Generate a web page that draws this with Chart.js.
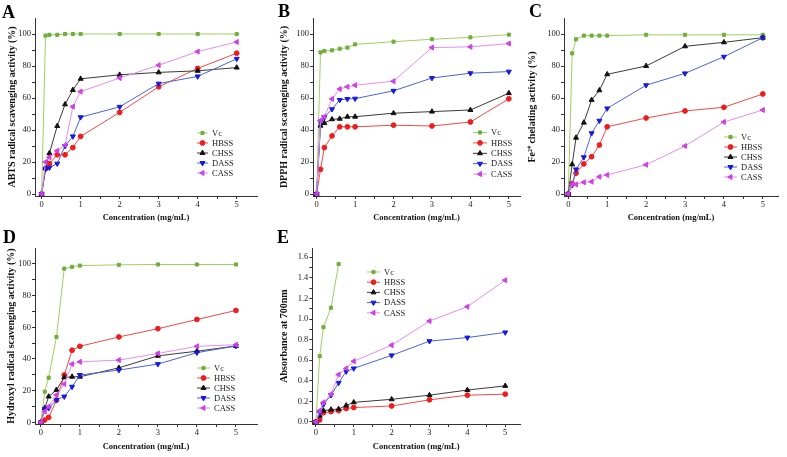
<!DOCTYPE html>
<html>
<head>
<meta charset="utf-8">
<script src="https://cdn.jsdelivr.net/npm/chart.js@4.4.1/dist/chart.umd.min.js"></script>
<style>
  html, body { margin: 0; padding: 0; background: #fff; }
  #wrap { position: relative; width: 787px; height: 457px; overflow: hidden; }
  canvas { position: absolute; }
</style>
</head>
<body>
<div id="wrap">
  <canvas id="chartA" width="262" height="228" style="left:0;top:0"></canvas>
  <canvas id="chartB" width="263" height="228" style="left:262px;top:0"></canvas>
  <canvas id="chartC" width="262" height="228" style="left:525px;top:0"></canvas>
  <canvas id="chartD" width="262" height="229" style="left:0;top:228px"></canvas>
  <canvas id="chartE" width="263" height="229" style="left:262px;top:228px"></canvas>
</div>
<script>
// concentrations (mg/mL) shared by every panel
const conc = [0, 0.1, 0.2, 0.4, 0.6, 0.8, 1, 2, 3, 4, 5];
const seriesNames = ['Vc', 'HBSS', 'CHSS', 'DASS', 'CASS'];

// A - ABTS radical scavenging activity (%)
const abtsVc   = [0, 99, 99.5, 99.5, 100, 100, 100, 100, 100, 100, 100];
const abtsHBSS = [0, 16, 19, 24.5, 24.5, 29, 36, 51, 67, 78.5, 88];
const abtsCHSS = [0, 16, 25.5, 42.5, 56, 65, 72, 74.5, 76, 77, 79];
const abtsDASS = [0, 15.5, 16.5, 19, 30, 36, 48, 54.5, 69, 73.5, 84.5];
const abtsCASS = [0, 20, 23, 27, 30.5, 54.6, 64, 72.5, 80.5, 89, 95];

// B - DPPH radical scavenging activity (%)
const dpphVc   = [0, 88.5, 89.4, 89.8, 90.8, 91.5, 93.5, 95.2, 96.7, 97.9, 99.6];
const dpphHBSS = [0, 15.4, 29, 36.3, 42, 42, 42, 43, 42.5, 45, 59.5];
const dpphCHSS = [0, 42.7, 44.3, 46.7, 47, 48.3, 48.3, 50.5, 51.5, 52.5, 63];
const dpphDASS = [0, 45.2, 48, 53, 58.8, 59.4, 59.6, 64.5, 72.5, 75.5, 76.5];
const dpphCASS = [0, 46, 48.3, 59.4, 65.6, 67, 68, 70.5, 91.5, 92, 94];

// C - Fe2+ chelating activity (%)
const feVc   = [0, 87.9, 96.7, 99, 99, 99, 99, 99.5, 99.5, 99.5, 99.5];
const feHBSS = [0, 6.5, 13, 18.8, 23.3, 30.6, 42, 47.5, 51.9, 54.2, 62.5];
const feCHSS = [0, 18.5, 35.2, 44.6, 58.8, 64.8, 74.8, 80, 92.3, 94.8, 97.7];
const feDASS = [0, 5.5, 15.4, 23, 38, 45.8, 53.5, 68, 75.4, 85.8, 97.7];
const feCASS = [0, 6, 6, 7.3, 7.7, 10.8, 11.9, 18.3, 30, 45, 52.5];

// D - Hydroxyl radical scavenging activity (%)
const ohVc   = [0, 19.4, 28.2, 53.9, 97, 98.1, 98.9, 99.4, 99.6, 99.6, 99.6];
const ohHBSS = [0, 1.5, 3.2, 14, 29.9, 45.5, 48, 53.9, 59.1, 64.9, 70.6];
const ohCHSS = [0, 9, 16.3, 20.5, 28.4, 28.8, 28.8, 34.4, 42, 44.9, 48.2];
const ohDASS = [0, 8.4, 9, 14.2, 16.3, 22.5, 29.9, 33, 36.8, 44, 48.2];
const ohCASS = [0, 6.9, 10, 17.3, 24.2, 36.8, 38.2, 39.3, 43.5, 48, 49];

// E - Absorbance at 700nm (Vc measured only up to 0.6 mg/mL)
const absVc   = [0, 0.64, 0.92, 1.11, 1.535];
const absHBSS = [0, 0.02, 0.09, 0.1, 0.11, 0.13, 0.14, 0.155, 0.215, 0.26, 0.27];
const absCHSS = [0, 0.06, 0.11, 0.12, 0.125, 0.16, 0.19, 0.22, 0.26, 0.31, 0.35];
const absDASS = [0, 0.087, 0.17, 0.26, 0.38, 0.49, 0.52, 0.647, 0.785, 0.82, 0.87];
const absCASS = [0, 0.11, 0.19, 0.27, 0.46, 0.52, 0.59, 0.746, 0.98, 1.12, 1.377];

const SERIES_STYLE = [
  { line: '#9fcf62', point: '#6fae3c', pointStyle: 'rect', radius: 2.2, rotation: 0 },
  { line: '#f04848', point: '#ee1c1c', pointStyle: 'circle', radius: 2.4, rotation: 0 },
  { line: '#3a3a3a', point: '#111111', pointStyle: 'triangle', radius: 2.9, rotation: 0 },
  { line: '#4a64d8', point: '#1818e0', pointStyle: 'triangle', radius: 2.9, rotation: 180 },
  { line: '#e48ef0', point: '#d23fe6', pointStyle: 'triangle', radius: 2.9, rotation: 270 }
];

const FONT = "'Liberation Serif', 'Times New Roman', serif";
const INK = '#222';

// legend + panel letter drawn on the canvas
const panelDecor = {
  id: 'panelDecor',
  afterDatasetsDraw(chart, args, opts) {
    const ctx = chart.ctx;
    ctx.save();
    chart.data.datasets.forEach((ds, i) => {
      const y = opts.top + i * opts.step;
      ctx.strokeStyle = ds.borderColor;
      ctx.lineWidth = 1;
      ctx.beginPath();
      ctx.moveTo(opts.x, y);
      ctx.lineTo(opts.x + opts.len, y);
      ctx.stroke();
      ctx.fillStyle = ds.pointBackgroundColor;
      ctx.strokeStyle = ds.pointBorderColor;
      Chart.helpers.drawPoint(ctx, {
        pointStyle: ds.pointStyle, radius: ds.pointRadius,
        rotation: ds.pointRotation, borderWidth: 1
      }, opts.x + opts.len / 2, y);
      ctx.fillStyle = INK;
      ctx.font = '8.5px ' + FONT;
      ctx.textBaseline = 'middle';
      ctx.textAlign = 'left';
      ctx.fillText(ds.label, opts.x + opts.len + 4, y + 0.5);
    });
    ctx.fillStyle = '#000';
    ctx.font = 'bold 18px ' + FONT;
    ctx.textBaseline = 'alphabetic';
    ctx.fillText(opts.letter, opts.letterX, opts.letterY);
    ctx.restore();
  }
};

function stepTicks(from, to, step) {
  const out = [];
  const n = Math.round((to - from) / step);
  for (let i = 0; i <= n; i++) out.push({ value: +(from + i * step).toFixed(4) });
  return out;
}

function makePanel(id, p) {
  const datasets = p.series.map((vals, i) => {
    const st = SERIES_STYLE[i];
    return {
      label: seriesNames[i],
      data: vals.map((v, k) => ({ x: conc[k], y: v })),
      borderColor: st.line,
      borderWidth: 1,
      pointStyle: st.pointStyle,
      pointRotation: st.rotation,
      pointRadius: st.radius,
      pointBackgroundColor: st.point,
      pointBorderColor: st.point,
      pointBorderWidth: 1,
      tension: 0,
      order: 4 - i
    };
  });

  const gridOpts = {
    display: true, drawOnChartArea: false, drawTicks: true,
    tickLength: 3, tickColor: '#333'
  };
  const borderOpts = { display: true, color: '#333', width: 1 };

  new Chart(document.getElementById(id), {
    type: 'line',
    data: { datasets },
    options: {
      responsive: false,
      animation: false,
      events: [],
      layout: { padding: { left: 0, top: p.padTop, right: p.padRight, bottom: 0 } },
      scales: {
        x: {
          type: 'linear',
          min: p.xMin, max: p.xMax,
          afterBuildTicks: (s) => { s.ticks = stepTicks(0, 5, 0.5); },
          afterFit: (s) => { s.height = p.xAxisH; },
          grid: gridOpts,
          border: borderOpts,
          ticks: {
            autoSkip: false, maxRotation: 0, padding: 1, color: INK,
            font: { family: FONT, size: 8.5 },
            callback: (v) => Number.isInteger(v) ? String(v) : ''
          },
          title: {
            display: true, text: 'Concentration (mg/mL)', color: '#111',
            font: { family: FONT, size: 8.5, weight: 'bold' },
            padding: { top: 0, bottom: p.xTitlePad }
          }
        },
        y: {
          min: p.yMin, max: p.yMax,
          afterBuildTicks: (s) => { s.ticks = stepTicks(0, p.yTop, p.yMinor); },
          afterFit: (s) => { s.width = p.yAxisW; },
          grid: gridOpts,
          border: borderOpts,
          ticks: {
            autoSkip: false, padding: 1, color: INK,
            font: { family: FONT, size: 8.5 },
            callback: (v, idx) => idx % 2 === 0 ? p.fmt(v) : ''
          },
          title: {
            display: true, text: p.yTitle, color: '#111',
            font: { family: FONT, size: 10, weight: 'bold' },
            padding: { top: p.yTitlePad, bottom: 0 }
          }
        }
      },
      plugins: {
        legend: { display: false },
        tooltip: { enabled: false },
        panelDecor: p.decor
      }
    },
    plugins: [panelDecor]
  });
}

const pct = (v) => String(Math.round(v));

makePanel('chartA', {
  series: [abtsVc, abtsHBSS, abtsCHSS, abtsDASS, abtsCASS],
  yTitle: 'ABTS radical scavenging activity (%)',
  xMin: -0.17, xMax: 5.52, yMin: -1.25, yMax: 110, yTop: 100, yMinor: 10, fmt: pct,
  padTop: 18, padRight: 5, yAxisW: 35, xAxisH: 32, xTitlePad: 4.9, yTitlePad: 6.5,
  decor: { x: 197, len: 11, top: 133, step: 10, letter: 'A', letterX: 2, letterY: 17.5 }
});

makePanel('chartB', {
  series: [dpphVc, dpphHBSS, dpphCHSS, dpphDASS, dpphCASS],
  yTitle: 'DPPH radical scavenging activity (%)',
  xMin: -0.095, xMax: 5.29, yMin: -1.25, yMax: 110, yTop: 100, yMinor: 10, fmt: pct,
  padTop: 18, padRight: 2, yAxisW: 51, xAxisH: 32, xTitlePad: 4.9, yTitlePad: 16.5,
  decor: { x: 211, len: 14, top: 132.5, step: 10.4, letter: 'B', letterX: 16, letterY: 16.5 }
});

makePanel('chartC', {
  series: [feVc, feHBSS, feCHSS, feDASS, feCASS],
  yTitle: 'Fe²⁺ chelating activity (%)',
  xMin: -0.11, xMax: 5.39, yMin: -1.25, yMax: 110, yTop: 100, yMinor: 10, fmt: pct,
  padTop: 18, padRight: 9, yAxisW: 39, xAxisH: 32, xTitlePad: 4.9, yTitlePad: 1,
  decor: { x: 199, len: 13, top: 137, step: 10, letter: 'C', letterX: 4, letterY: 17 }
});

makePanel('chartD', {
  series: [ohVc, ohHBSS, ohCHSS, ohDASS, ohCASS],
  yTitle: 'Hydroxyl radical scavenging activity (%)',
  xMin: -0.15, xMax: 5.54, yMin: -1, yMax: 110, yTop: 100, yMinor: 10, fmt: pct,
  padTop: 20, padRight: 5, yAxisW: 35, xAxisH: 33, xTitlePad: 5.2, yTitlePad: 5,
  decor: { x: 197, len: 13, top: 140, step: 10, letter: 'D', letterX: 3, letterY: 15 }
});

makePanel('chartE', {
  series: [absVc, absHBSS, absCHSS, absDASS, absCASS],
  yTitle: 'Absorbance at 700nm',
  xMin: -0.095, xMax: 5.39, yMin: -0.02, yMax: 1.69, yTop: 1.6, yMinor: 0.1,
  fmt: (v) => v.toFixed(1),
  padTop: 20, padRight: 2, yAxisW: 50.3, xAxisH: 33, xTitlePad: 5.2, yTitlePad: 16.5,
  decor: { x: 105, len: 13, top: 44, step: 10.2, letter: 'E', letterX: 15, letterY: 15 }
});
</script>
</body>
</html>
